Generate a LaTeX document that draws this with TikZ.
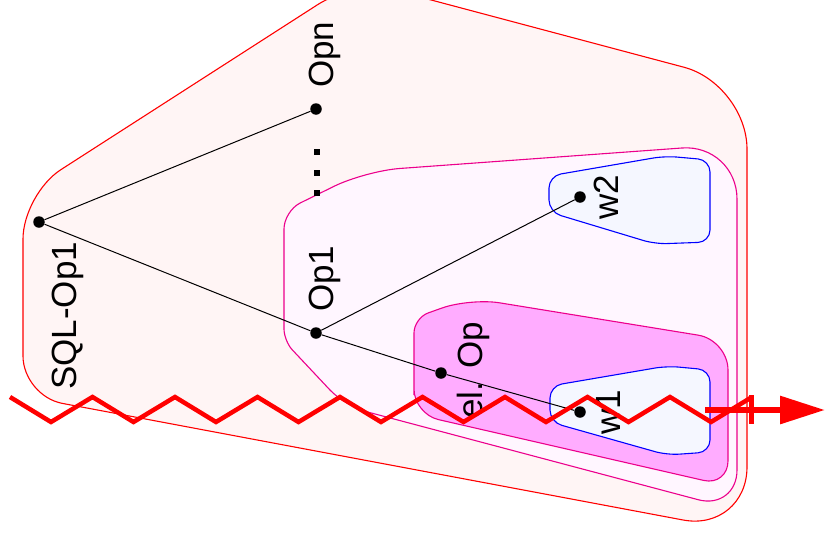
\documentclass[tikz,border=0pt]{standalone}
\usepackage{fontspec}
\setmainfont{Liberation Sans}
\usetikzlibrary{arrows.meta}
\definecolor{fillred}{RGB}{255, 245, 245}
\definecolor{fillmag}{RGB}{255, 246, 255}
\definecolor{fillpink}{RGB}{255, 172, 255}
\definecolor{fillblue}{RGB}{245, 247, 255}

\begin{document}
\begin{tikzpicture}[
  x=1pt, y=-1pt,
  blob_red/.style={draw=red, fill=fillred, line width=1.1pt},
  blob_mag/.style={draw=magenta, fill=fillmag, line width=1.1pt},
  blob_pink/.style={draw=magenta, fill=fillpink, line width=1.1pt},
  blob_blue/.style={draw=blue, fill=fillblue, line width=1.1pt, rounded corners=12pt},
  pt/.style={circle, fill=black, inner sep=0pt, minimum size=11.5pt},
  sqdot/.style={rectangle, fill=black, inner sep=0pt, minimum size=6pt},
  lbl/.style={rotate=90, anchor=base west, inner sep=0pt, font=\fontsize{35}{42}\selectfont},
  edge/.style={line width=1pt, color=black},
  zz/.style={red, line width=4.5pt},
  arr/.style={red, line width=6pt, -{Triangle[length=45pt, width=27pt]}}
]
\useasboundingbox (0,0) rectangle (825,541);
\clip (0,0) rectangle (825,541);

% Regions
\draw[blob_red] (23,300) [rounded corners=45pt] -- (23,194) [rounded corners=45pt] -- (356,-20)
  [rounded corners=65pt] -- (747,84) [rounded corners=65pt] -- (747,532) [rounded corners=40pt] -- (23,396) -- cycle;
\draw[blob_mag] (284,280) [rounded corners=18pt] -- (284,211) [rounded corners=35pt] -- (365,171)
  [rounded corners=55pt] -- (737,144) [rounded corners=40pt] -- (737,510) [rounded corners=22pt] -- (345,406)
  [rounded corners=12pt] -- (284,341) -- cycle;
\draw[blob_pink] (414,370) [rounded corners=15pt] -- (414,318) [rounded corners=30pt] -- (470,298)
  -- (728,340) [rounded corners=25pt] -- (728,486) -- (414,414) -- cycle;
\draw[blob_blue] (549,176) -- (665,156) -- (710,160) -- (710,242) -- (655,244) -- (549,212) -- cycle;
\draw[blob_blue] (550,386) -- (667,366) -- (710,370) -- (710,452) -- (667,455) -- (550,422) -- cycle;

% Operators
\node[pt] (sql) at (39,222) {};
\node[pt] (opn) at (316,109) {};
\node[pt] (op1) at (316,333) {};
\node[pt] (sel) at (441,373) {};
\node[pt] (w1) at (580,412) {};
\node[pt] (w2) at (580,197) {};
\node[sqdot] (d1) at (317,152) {};
\node[sqdot] (d2) at (317,173) {};
\node[sqdot] (d3) at (317,193) {};

% Edges
\draw[edge] (sql) -- (opn);
\draw[edge] (sql) -- (op1);
\draw[edge] (op1) -- (w2);
\draw[edge] (op1) -- (sel);
\draw[edge] (sel) -- (w1);

% Labels
\node[lbl] (sql_lbl) at (76,390) {SQL-Op1};
\node[lbl] (opn_lbl) at (333,88) {Opn};
\node[lbl] (op1_lbl) at (333,312) {Op1};
\node[lbl] (sel_lbl) at (482,419) {el. Op};
\node[lbl] (w1_lbl) at (620,435) {w1};
\node[lbl] (w2_lbl) at (618,220) {w2};

% Cut line
\draw[zz] (10,397) -- (51,422) -- (92.5,397) -- (133.5,422) -- (175,397) -- (216,422) -- (257.5,397)
  -- (298.5,422) -- (340,397) -- (381,422) -- (422.5,397) -- (463.5,422) -- (505,397) -- (546,422)
  -- (587.5,397) -- (628.5,422) -- (670,397) -- (711,422) -- (752,397);
\coordinate (tick_top) at (751,395);
\coordinate (tick_bot) at (751,424);
\coordinate (arr_start) at (705,410);
\coordinate (arr_end) at (825,410);
\draw[red, line width=5pt] (tick_top) -- (tick_bot);
\draw[arr] (arr_start) -- (arr_end);

\end{tikzpicture}
\end{document}
